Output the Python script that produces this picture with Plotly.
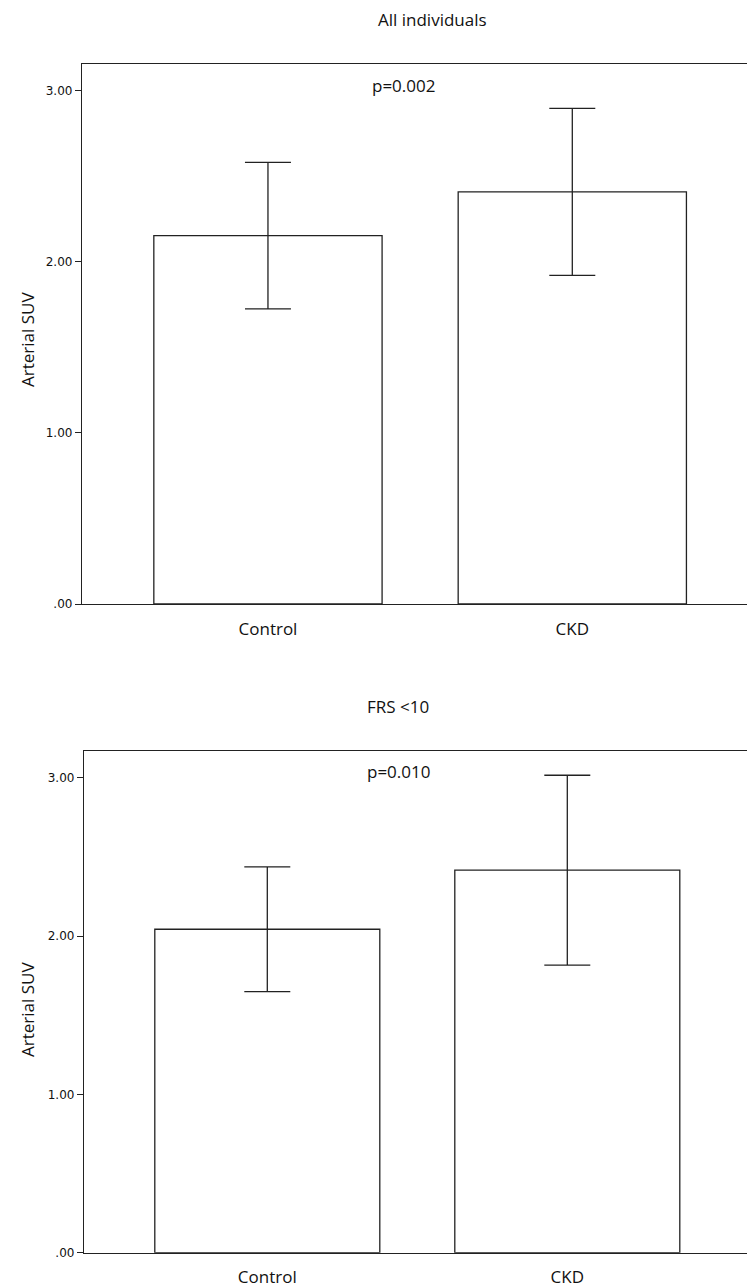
import plotly.graph_objects as go

W, H = 747, 1288
K = 1288 / 1280.0  # vertical compensation observed in the photographed page

groups = ["Control", "CKD"]
all_means = [2.153, 2.408]
all_err = [0.428, 0.488]
frs_means = [2.043, 2.416]
frs_err = [0.394, 0.600]

panel_titles = ["All individuals", "FRS <10"]
p_texts = ["p=0.002", "p=0.010"]
y_title = "Arterial SUV"
ytick_vals = [0, 1, 2, 3]
ytick_text = [".00", "1.00", "2.00", "3.00"]

LINE = "#222222"
TXT = "#111111"
FONT = "Open Sans, Lato, sans-serif"
TICKFONT = "DejaVu Sans, sans-serif"

def px_x(p):
    return p / W

def px_y(p):
    return 1 - (p * K) / H

fig = go.Figure()

for i, (means, errs) in enumerate([(all_means, all_err), (frs_means, frs_err)]):
    sfx = "" if i == 0 else "2"
    fig.add_trace(go.Bar(
        x=groups, y=means, width=0.75,
        marker=dict(color="white", line=dict(color=LINE, width=1.3)),
        error_y=dict(type="data", array=errs, symmetric=True, visible=True,
                     color=LINE, thickness=1.3, width=23),
        xaxis="x" + sfx, yaxis="y" + sfx, showlegend=False, hoverinfo="skip",
    ))

axis_common = dict(showgrid=False, zeroline=False, linecolor=LINE, linewidth=1.3)

fig.update_layout(
    width=W, height=H,
    margin=dict(l=0, r=0, t=0, b=0),
    paper_bgcolor="white", plot_bgcolor="white",
    xaxis=dict(domain=[px_x(82), 1], range=[-0.611, 1.574], type="category",
               showline=True, mirror=True, ticks="", ticklabelstandoff=9,
               tickfont=dict(family=FONT, size=17, color=TXT),
               anchor="y", **axis_common),
    yaxis=dict(domain=[px_y(604), px_y(64.3)], range=[0, 3.154],
               showline=True, mirror=False, ticks="outside", ticklen=6,
               tickcolor=LINE, tickwidth=1.3,
               tickvals=ytick_vals, ticktext=ytick_text,
               tickfont=dict(family=TICKFONT, size=12, color=TXT),
               anchor="x", **axis_common),
    xaxis2=dict(domain=[px_x(84), 1], range=[-0.611, 1.599], type="category",
                showline=True, mirror=True, ticks="", ticklabelstandoff=9,
                tickfont=dict(family=FONT, size=17, color=TXT),
                anchor="y2", **axis_common),
    yaxis2=dict(domain=[px_y(1252.7), px_y(750.7)], range=[0, 3.171],
                showline=True, mirror=False, ticks="outside", ticklen=6,
                tickcolor=LINE, tickwidth=1.3,
                tickvals=ytick_vals, ticktext=ytick_text,
                tickfont=dict(family=TICKFONT, size=12, color=TXT),
                anchor="x2", **axis_common),
)

ann = []
title_pos = [(432, 19), (398, 706)]
p_pos = [(403, 85), (398, 771)]
ytitle_pos = [(27, 340), (27, 1010)]
for i in range(2):
    ann.append(dict(text=panel_titles[i], x=px_x(title_pos[i][0]), y=px_y(title_pos[i][1]),
                    xref="paper", yref="paper", showarrow=False, xanchor="center", yanchor="middle",
                    font=dict(family=FONT, size=17, color=TXT)))
    ann.append(dict(text=p_texts[i], x=px_x(p_pos[i][0]), y=px_y(p_pos[i][1]),
                    xref="paper", yref="paper", showarrow=False, xanchor="center", yanchor="middle",
                    font=dict(family=FONT, size=17, color=TXT)))
    ann.append(dict(text=y_title, x=px_x(ytitle_pos[i][0]), y=px_y(ytitle_pos[i][1]),
                    xref="paper", yref="paper", showarrow=False, xanchor="center", yanchor="middle",
                    textangle=-90, font=dict(family=FONT, size=17, color=TXT)))
fig.update_layout(annotations=ann)

fig.write_html(
    "out.html",
    config={"displayModeBar": False},
    post_script=(
        "document.documentElement.style.margin='0';"
        "document.documentElement.style.overflow='hidden';"
        "document.body.style.margin='0';document.body.style.padding='0';"
        "document.body.style.overflow='hidden';document.body.style.lineHeight='0';"
        "var d=document.getElementById('{plot_id}');"
        "d.style.display='block';"
        "if(d.parentElement){d.parentElement.style.display='block';d.parentElement.style.lineHeight='0';}"
    ),
)
